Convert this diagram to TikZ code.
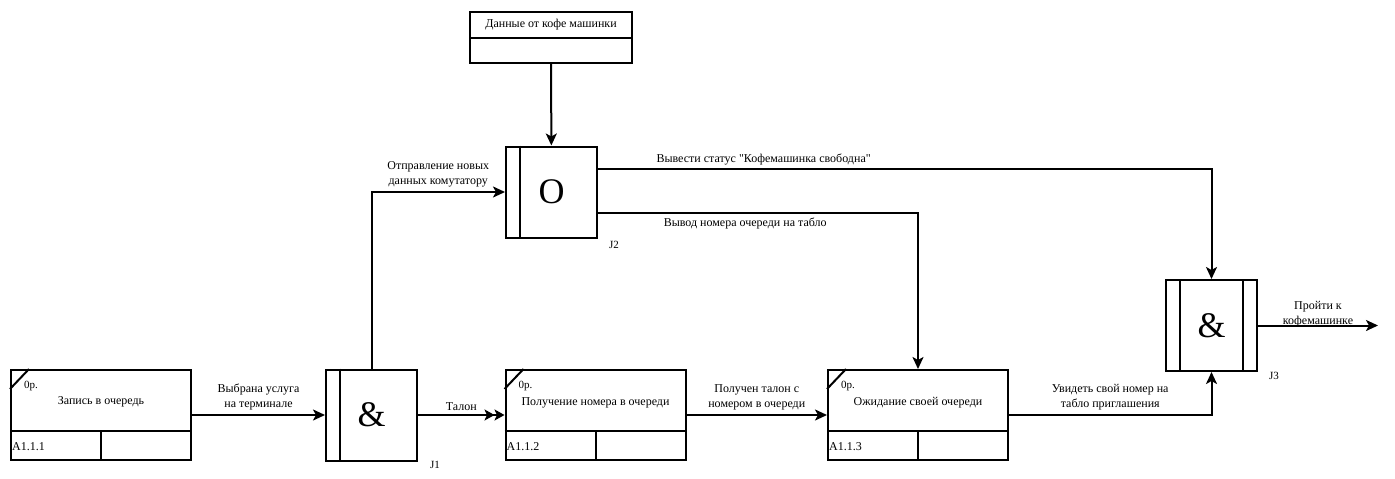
\documentclass[tikz,border=0pt]{standalone}
\usepackage{fontspec}
\setmainfont{Liberation Serif}[Ligatures=TeXOff]
\usetikzlibrary{arrows.meta}
\begin{document}
\begin{tikzpicture}[x=1pt,y=-1pt, every node/.style={font=\fontsize{12}{15}\selectfont,align=center,inner sep=1pt},
  act/.style={draw,line width=2pt,minimum width=180pt,minimum height=90pt},
  junc/.style={draw,line width=2pt,minimum width=91pt,minimum height=91pt,font=\fontsize{36}{36}\selectfont},
  small/.style={font=\fontsize{11}{13}\selectfont},
  flow/.style={line width=2pt,-{Stealth[length=12pt,width=11pt,inset=3pt]}},
  dflow/.style={line width=2pt,-{Stealth[length=10pt,width=11pt,inset=2.5pt]Stealth[length=10pt,width=11pt,inset=2.5pt]}}]
\useasboundingbox (0,0) rectangle (1395,479);
          \node [act] (a111) at (101,415) {};
          \node [act] (a112) at (595.5,415) {};
          \node [act] (a113) at (918,415) {};
          \node [junc] (j1) at (371.5,415) {\&};
          \node [junc] (j2) at (551.5,192) {O};
          \node [junc] (j3) at (1211.5,325.5) {\&};
          \node [draw,line width=2pt,minimum width=162pt,minimum height=51pt] (src) at (551,37.5) {};
          \node at ([yshift=13pt]src.center) {Данные от кофе машинки};
          \draw [line width=2pt] (src.west) -- (src.east);
          \node [anchor=base] at ([yshift=-35pt]a111.north) {Запись в очередь};
          \node [anchor=base] at ([yshift=-36pt]a112.north) {Получение номера в очереди};
          \node [anchor=base] at ([yshift=-36pt]a113.north) {Ожидание своей очереди};
          \foreach \b/\t in {a111/A1.1.1,a112/A1.1.2,a113/A1.1.3} {
            \draw [line width=2pt] ([yshift=30pt]\b.south west) -- ([yshift=30pt]\b.south east);
            \draw [line width=2pt] ([yshift=30pt]\b.south) -- (\b.south);
            \draw [line width=2pt] ([yshift=-20pt]\b.north west) -- ([xshift=19pt]\b.north west);
            \node [small,anchor=base west] at ([xshift=13pt,yshift=-19pt]\b.north west) {0р.};
            \node [anchor=base west] at ([xshift=1pt,yshift=11pt]\b.south west) {\t};
          }
          \draw [line width=2pt] ([xshift=15pt]j1.north west) -- ([xshift=15pt]j1.south west);
          \draw [line width=2pt] ([xshift=15pt]j2.north west) -- ([xshift=15pt]j2.south west);
          \draw [line width=2pt] ([xshift=15pt]j3.north west) -- ([xshift=15pt]j3.south west);
          \draw [line width=2pt] ([xshift=-15pt]j3.north east) -- ([xshift=-15pt]j3.south east);
          \node [small] at ([xshift=17pt,yshift=-3pt]j1.south east) {J1};
          \node [small] at ([xshift=16pt,yshift=-6pt]j2.south east) {J2};
          \node [small] at ([xshift=16pt,yshift=-4pt]j3.south east) {J3};
          \coordinate (out) at (1378,325.5);
          \draw [flow] (a111) -- node [above=3pt] {Выбрана услуга\\на терминале} (j1);
          \draw [dflow] (j1) -- node [above=2pt] {Талон} (a112);
          \draw [flow] (a112) -- node [above=3pt] {Получен талон с\\номером в очереди} (a113);
          \draw [flow] (j1.north) |- node [pos=0.75,above=3pt] {Отправление новых\\данных комутатору} (j2.west);
          \draw [flow] (src) -- (j2);
          \draw [flow] ([yshift=23pt]j2.east) -| node [pos=0.135,above=2pt] {Вывести статус "Кофемашинка свободна"} (j3.north);
          \draw [flow] ([yshift=-21pt]j2.east) -| node [pos=0.23,below=3pt] {Вывод номера очереди на табло} (a113.north);
          \draw [flow] (a113) -| node [pos=0.25,above=3pt] {Увидеть свой номер на\\табло приглашения} (j3.south);
          \draw [flow] (j3) -- node [above=-4pt] {Пройти к\\кофемашинке} (out);
\end{tikzpicture}
\end{document}
